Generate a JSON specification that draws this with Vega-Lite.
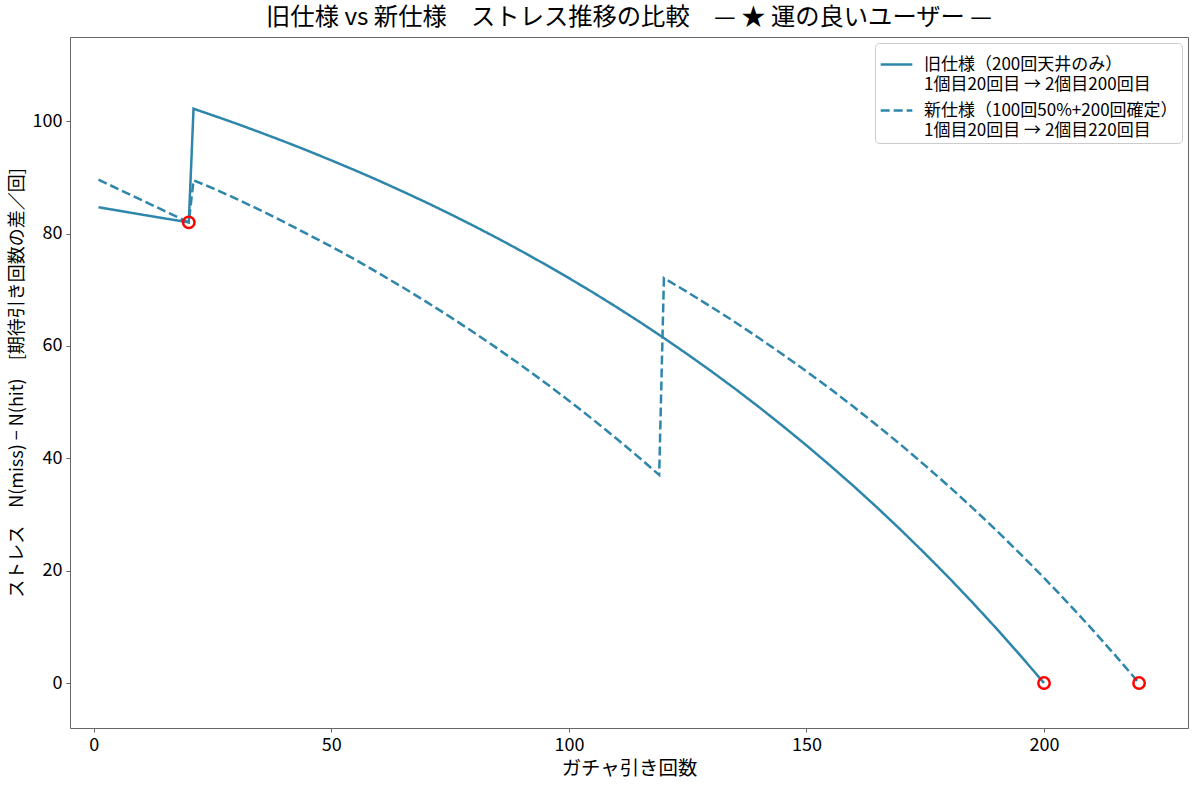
{
  "$schema": "https://vega.github.io/schema/vega-lite/v6.json",
  "width": 1118,
  "height": 691,
  "autosize": {"type": "none"},
  "padding": {"left": 70, "top": 37, "right": 12, "bottom": 60},
  "background": "white",
  "config": {
    "font": "Noto Sans CJK JP",
    "view": {"stroke": "#666666", "strokeWidth": 1},
    "axis": {
      "grid": false,
      "domain": false,
      "labelFontSize": 18,
      "labelColor": "#000000",
      "tickColor": "#666666",
      "tickSize": 4,
      "titleFontWeight": "normal",
      "titleColor": "#000000"
    },
    "legend": {
      "labelFontSize": 17,
      "labelColor": "#000000"
    }
  },
  "title": {
    "text": "旧仕様 vs 新仕様　ストレス推移の比較　— ★ 運の良いユーザー —",
    "fontSize": 24.3,
    "fontWeight": "normal",
    "color": "#000000",
    "offset": 7
  },
  "datasets": {
    "lines": [
      {"series": "old", "n": 1, "stress": 84.7},
      {"series": "old", "n": 10, "stress": 83.4},
      {"series": "old", "n": 20, "stress": 82.0},
      {"series": "old", "n": 21, "stress": 102.23},
      {"series": "old", "n": 25, "stress": 101.07},
      {"series": "old", "n": 30, "stress": 99.59},
      {"series": "old", "n": 35, "stress": 98.03},
      {"series": "old", "n": 40, "stress": 96.43},
      {"series": "old", "n": 45, "stress": 94.77},
      {"series": "old", "n": 50, "stress": 93.04},
      {"series": "old", "n": 55, "stress": 91.27},
      {"series": "old", "n": 60, "stress": 89.43},
      {"series": "old", "n": 65, "stress": 87.51},
      {"series": "old", "n": 70, "stress": 85.54},
      {"series": "old", "n": 75, "stress": 83.49},
      {"series": "old", "n": 80, "stress": 81.37},
      {"series": "old", "n": 85, "stress": 79.17},
      {"series": "old", "n": 90, "stress": 76.89},
      {"series": "old", "n": 95, "stress": 74.53},
      {"series": "old", "n": 100, "stress": 72.09},
      {"series": "old", "n": 105, "stress": 69.56},
      {"series": "old", "n": 110, "stress": 66.94},
      {"series": "old", "n": 115, "stress": 64.23},
      {"series": "old", "n": 120, "stress": 61.41},
      {"series": "old", "n": 125, "stress": 58.5},
      {"series": "old", "n": 130, "stress": 55.49},
      {"series": "old", "n": 135, "stress": 52.37},
      {"series": "old", "n": 140, "stress": 49.13},
      {"series": "old", "n": 145, "stress": 45.77},
      {"series": "old", "n": 150, "stress": 42.31},
      {"series": "old", "n": 155, "stress": 38.71},
      {"series": "old", "n": 160, "stress": 35.0},
      {"series": "old", "n": 165, "stress": 31.14},
      {"series": "old", "n": 170, "stress": 27.14},
      {"series": "old", "n": 175, "stress": 23.0},
      {"series": "old", "n": 180, "stress": 18.73},
      {"series": "old", "n": 185, "stress": 14.29},
      {"series": "old", "n": 190, "stress": 9.69},
      {"series": "old", "n": 195, "stress": 4.93},
      {"series": "old", "n": 200, "stress": 0},
      {"series": "new", "n": 1, "stress": 89.6},
      {"series": "new", "n": 10, "stress": 86.0},
      {"series": "new", "n": 20, "stress": 82.0},
      {"series": "new", "n": 21, "stress": 89.5},
      {"series": "new", "n": 25, "stress": 88.1},
      {"series": "new", "n": 30, "stress": 86.2},
      {"series": "new", "n": 35, "stress": 84.2},
      {"series": "new", "n": 40, "stress": 82.1},
      {"series": "new", "n": 45, "stress": 79.9},
      {"series": "new", "n": 50, "stress": 77.7},
      {"series": "new", "n": 55, "stress": 75.4},
      {"series": "new", "n": 60, "stress": 72.95},
      {"series": "new", "n": 65, "stress": 70.45},
      {"series": "new", "n": 70, "stress": 67.86},
      {"series": "new", "n": 75, "stress": 65.18},
      {"series": "new", "n": 80, "stress": 62.4},
      {"series": "new", "n": 85, "stress": 59.52},
      {"series": "new", "n": 90, "stress": 56.55},
      {"series": "new", "n": 95, "stress": 53.46},
      {"series": "new", "n": 100, "stress": 50.27},
      {"series": "new", "n": 105, "stress": 46.95},
      {"series": "new", "n": 110, "stress": 43.54},
      {"series": "new", "n": 115, "stress": 39.98},
      {"series": "new", "n": 119, "stress": 37.05},
      {"series": "new", "n": 120, "stress": 72.09},
      {"series": "new", "n": 125, "stress": 69.56},
      {"series": "new", "n": 130, "stress": 66.94},
      {"series": "new", "n": 135, "stress": 64.23},
      {"series": "new", "n": 140, "stress": 61.41},
      {"series": "new", "n": 145, "stress": 58.5},
      {"series": "new", "n": 150, "stress": 55.49},
      {"series": "new", "n": 155, "stress": 52.37},
      {"series": "new", "n": 160, "stress": 49.13},
      {"series": "new", "n": 165, "stress": 45.77},
      {"series": "new", "n": 170, "stress": 42.31},
      {"series": "new", "n": 175, "stress": 38.71},
      {"series": "new", "n": 180, "stress": 35.0},
      {"series": "new", "n": 185, "stress": 31.14},
      {"series": "new", "n": 190, "stress": 27.14},
      {"series": "new", "n": 195, "stress": 23.0},
      {"series": "new", "n": 200, "stress": 18.73},
      {"series": "new", "n": 205, "stress": 14.29},
      {"series": "new", "n": 210, "stress": 9.69},
      {"series": "new", "n": 215, "stress": 4.93},
      {"series": "new", "n": 220, "stress": 0}
    ],
    "hits": [
      {"n": 20, "stress": 82.0},
      {"n": 200, "stress": 0},
      {"n": 220, "stress": 0}
    ]
  },
  "layer": [
    {
      "mark": {"type": "rule", "color": "#dddddd", "strokeWidth": 1},
      "encoding": {"y": {"datum": 0, "type": "quantitative"}}
    },
    {
      "data": {"name": "lines"},
      "mark": {"type": "line", "strokeWidth": 2.5, "clip": true},
      "encoding": {
        "x": {
          "field": "n",
          "type": "quantitative",
          "title": "ガチャ引き回数",
          "scale": {"domain": [-5, 230.3], "nice": false, "zero": false},
          "axis": {"values": [0, 50, 100, 150, 200], "titlePadding": 5, "labelPadding": 4, "titleFontSize": 19.4}
        },
        "y": {
          "field": "stress",
          "type": "quantitative",
          "title": "ストレス　N(miss) − N(hit)　[期待引き回数の差／回]",
          "scale": {"domain": [-8, 115], "nice": false, "zero": false},
          "axis": {"values": [0, 20, 40, 60, 80, 100], "titlePadding": 6, "labelPadding": 4, "titleFontSize": 18}
        },
        "color": {
          "field": "series",
          "type": "nominal",
          "scale": {"domain": ["old", "new"], "range": ["#2E86AB", "#2E86AB"]},
          "legend": {
            "title": null,
            "orient": "top-right",
            "offset": 6,
            "labelExpr": "datum.value == 'old' ? ['旧仕様（200回天井のみ）', '1個目20回目 → 2個目200回目'] : ['新仕様（100回50%+200回確定）', '1個目20回目 → 2個目220回目']",
            "symbolType": "stroke",
            "symbolSize": 1000,
            "symbolStrokeWidth": 2.5,
            "rowPadding": 0,
            "padding": 4,
            "labelOffset": 10,
            "strokeColor": "#cccccc",
            "fillColor": "white",
            "cornerRadius": 4,
            "labelLimit": 400,
            "encode": {"labels": {"update": {"lineHeight": {"value": 20}}}}
          }
        },
        "strokeDash": {
          "field": "series",
          "type": "nominal",
          "scale": {"domain": ["old", "new"], "range": [[1, 0], [9, 4]]},
          "legend": {
            "title": null,
            "orient": "top-right",
            "offset": 6,
            "labelExpr": "datum.value == 'old' ? ['旧仕様（200回天井のみ）', '1個目20回目 → 2個目200回目'] : ['新仕様（100回50%+200回確定）', '1個目20回目 → 2個目220回目']",
            "symbolType": "stroke",
            "symbolSize": 1000,
            "symbolStrokeWidth": 2.5,
            "rowPadding": 0,
            "padding": 4,
            "labelOffset": 10,
            "strokeColor": "#cccccc",
            "fillColor": "white",
            "cornerRadius": 4,
            "labelLimit": 400,
            "encode": {"labels": {"update": {"lineHeight": {"value": 20}}}}
          }
        }
      }
    },
    {
      "data": {"name": "hits"},
      "mark": {"type": "point", "shape": "circle", "filled": false, "color": "#ff0000", "strokeWidth": 2.5, "size": 130, "opacity": 1},
      "encoding": {
        "x": {"field": "n", "type": "quantitative"},
        "y": {"field": "stress", "type": "quantitative"}
      }
    }
  ]
}
